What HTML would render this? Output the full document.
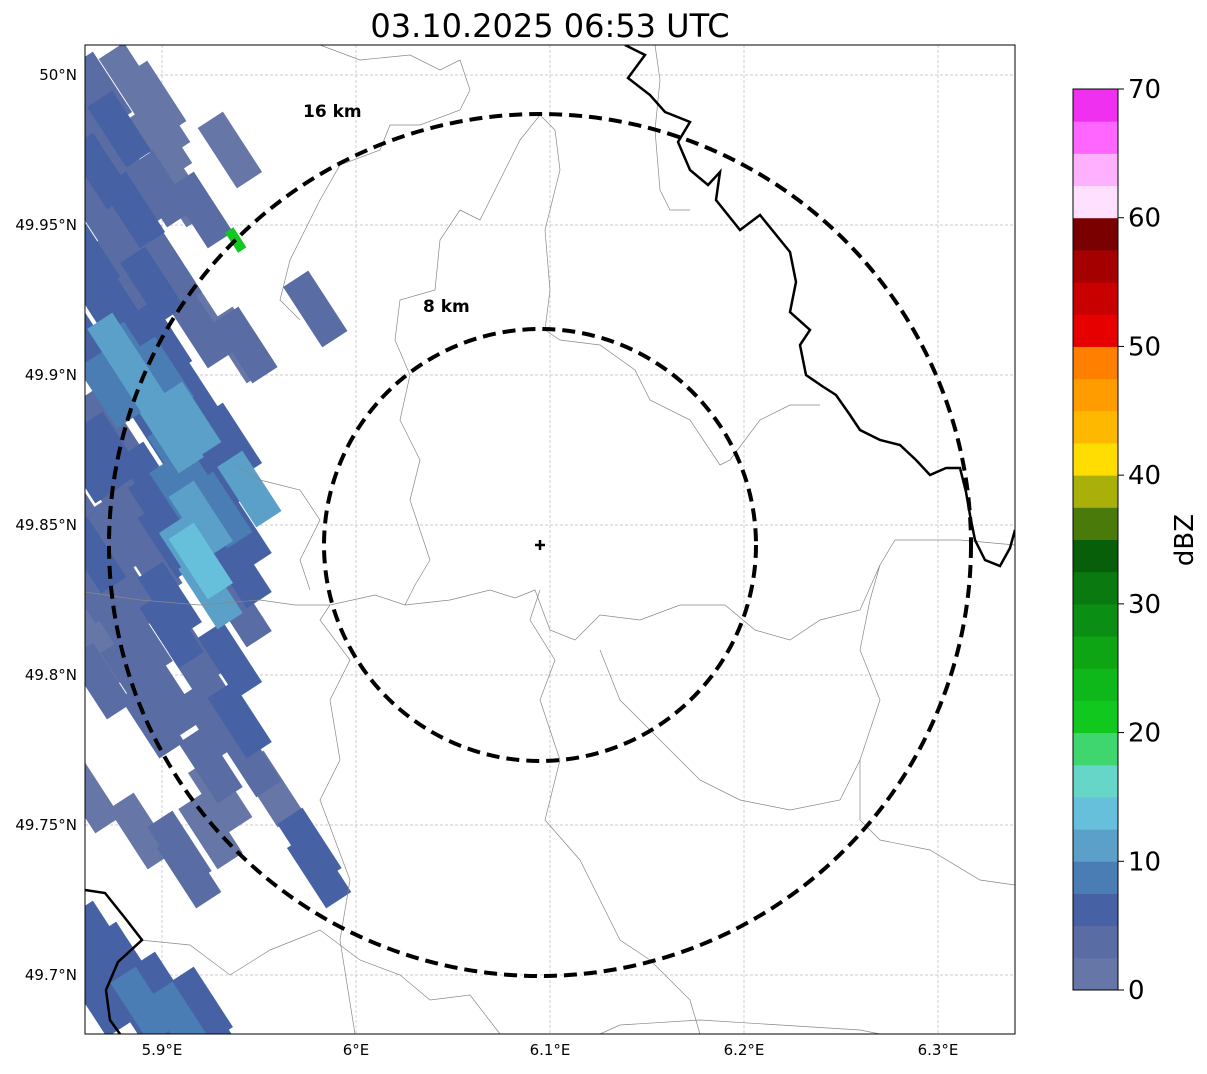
<!DOCTYPE html>
<html><head><meta charset="utf-8"><style>
body{margin:0;background:#fff;width:1207px;height:1069px;overflow:hidden;font-family:"Liberation Sans","DejaVu Sans",sans-serif}
svg text{font-family:"DejaVu Sans","Liberation Sans",sans-serif}
</style></head><body>
<svg id="chart" width="1207" height="1069" xmlns="http://www.w3.org/2000/svg">
<defs><clipPath id="mapclip"><rect x="85" y="45" width="930" height="989"/></clipPath></defs>
<text x="550" y="37" font-size="32" text-anchor="middle">03.10.2025 06:53 UTC</text>
<g id="grid"></g>
<g clip-path="url(#mapclip)">
<g id="cells"></g>
<g fill="none" stroke="#888" stroke-width="0.7">
<path d="M85,592 L140,600 L200,605 L260,600 L295,605 L330,605 L375,595 L405,605 L450,600 L490,590 L515,598 L535,590 L550,630 L575,640 L600,615 L640,620 L680,605 L725,605 L755,630 L790,640 L820,620 L860,610 L880,565 L895,540 L960,540 L1015,545"/>
<path d="M540,115 L520,140 L500,180 L480,220 L460,210 L440,240 L435,290 L400,300 L395,340 L410,375 L400,420 L420,460 L410,500 L430,560 L415,585 L405,605"/>
<path d="M540,115 L555,130 L560,170 L545,230 L550,290 L545,330 L560,340 L600,345 L635,370 L650,400 L690,420 L720,465 L730,460 L760,420 L790,405 L820,405"/>
<path d="M320,45 L360,60 L410,55 L440,70 L460,60 L470,90 L460,110 L420,125 L390,125 L380,150 L340,165 L320,200 L305,230 L290,260 L280,300 L300,320"/>
<path d="M235,465 L260,480 L300,490 L320,520 L300,560 L310,590"/>
<path d="M540,590 L530,620 L555,660 L540,700 L560,760 L545,820 L580,860 L600,900 L620,940 L650,960 L690,1000 L700,1034"/>
<path d="M330,700 L350,660 L320,620 L330,605 M330,700 L340,760 L320,800 L350,880 L340,940 L355,1034"/>
<path d="M140,940 L190,945 L230,975 L270,950 L320,930 L360,960 L400,975 L430,1000 L470,995 L500,1034"/>
<path d="M880,565 L870,600 L860,650 L880,700 L860,760 L860,820 L880,840 L930,850 L980,880 L1015,885"/>
<path d="M600,1034 L620,1025 L700,1020 L780,1025 L860,1030 L880,1034"/>
<path d="M600,650 L620,700 L650,730 L700,780 L740,800 L790,810 L840,800 L860,760"/>
<path d="M655,45 L660,80 L655,130 L660,190 L670,210 L690,210"/>
</g>
<g fill="none" stroke="#000" stroke-width="2.5">
<path d="M625,45 L645,55 L628,78 L650,95 L665,112 L690,122 L678,142 L690,170 L708,185 L720,172 L716,200 L740,230 L760,215 L790,252 L796,282 L790,312 L810,330 L800,345 L806,375 L822,386 L836,395 L850,415 L860,430 L880,440 L900,445 L916,460 L930,475 L946,468 L960,468 L966,492 L970,515 L975,540 L985,560 L1000,566 L1010,548 L1015,530"/>
<path d="M85,890 L105,893 L125,918 L142,940 L118,962 L106,990 L110,1020 L120,1034"/>
</g>
<g fill="none" stroke="#000" stroke-width="4" stroke-dasharray="13,7">
<circle cx="540" cy="545" r="431"/>
<circle cx="540" cy="545" r="216"/>
</g>
<text x="303" y="117" font-size="17" font-weight="bold">16 km</text>
<text x="423" y="312" font-size="17" font-weight="bold">8 km</text>
<path d="M540,540 V550 M535,545 H545" stroke="#000" stroke-width="2.5"/>
</g>
<rect x="85" y="45" width="930" height="989" fill="none" stroke="#000" stroke-width="1"/>
<g id="axes" font-size="15"></g>
<g id="cbar"></g>
<text transform="translate(1193,540) rotate(-90)" font-size="26" text-anchor="middle">dBZ</text>
</svg>
<script>
const lonTicks=[5.9,6.0,6.1,6.2,6.3];
const lonLabels=["5.9°E","6°E","6.1°E","6.2°E","6.3°E"];
const latTicks=[50.0,49.95,49.9,49.85,49.8,49.75,49.7];
const latLabels=["50°N","49.95°N","49.9°N","49.85°N","49.8°N","49.75°N","49.7°N"];
const cbarTicks=[0,10,20,30,40,50,60,70];
const cbarColors=["#6676a6","#5a6ca4","#4662a5","#4b7db5","#5aa0c8","#66c0dc","#66d6c8","#3fd670","#11c81f","#0fb81a","#0ea514","#0b8e14","#0a7a10","#075f0a","#4a7a0a","#aab00a","#ffdd00","#ffb800","#ff9c00","#ff7f00","#e60000","#c80000","#a50000","#7a0000","#ffe0ff","#ffb0ff","#ff66ff","#f030f0"];
const cellLon=[5.868,5.884,5.896,5.878,5.899,5.868,5.889,5.909,5.920,5.873,5.894,5.878,5.904,5.868,5.889,5.914,5.878,5.899,5.920,5.940,5.873,5.894,5.914,5.935,5.868,5.884,5.909,5.930,5.945,5.878,5.899,5.920,5.940,5.873,5.894,5.920,5.940,5.878,5.904,5.925,5.940,5.889,5.914,5.935,5.904,5.925,5.940,5.945,5.956,5.889,5.909,5.914,5.925,5.976,5.981,5.868,5.878,5.889,5.909,5.925,5.979,5.943,5.935,5.938,5.868,5.868,5.868,5.878,5.873,5.884,5.868,5.894,5.904,5.884,5.914,5.899,5.930,
5.862,5.862,5.862,5.862,5.862,5.862,5.862,5.875,5.880,5.885,5.890,5.895,5.900,5.905,5.910,5.915,5.905,5.920,5.925,5.930,5.895,5.885,5.875,5.865,5.880,5.890,5.900,5.870,5.880,5.890,5.900,5.910,5.920,5.898,5.875,5.862,5.875];
const cellLat=[49.995,49.998,49.992,49.982,49.978,49.968,49.962,49.962,49.955,49.948,49.945,49.935,49.935,49.925,49.922,49.925,49.908,49.912,49.915,49.910,49.895,49.892,49.885,49.878,49.882,49.872,49.872,49.868,49.862,49.858,49.855,49.852,49.848,49.845,49.838,49.838,49.835,49.825,49.825,49.828,49.822,49.812,49.808,49.805,49.792,49.785,49.785,49.772,49.762,49.748,49.742,49.735,49.748,49.743,49.735,49.712,49.698,49.688,49.685,49.682,49.922,49.910,49.975,49.945,49.798,49.692,49.955,49.915,49.875,49.905,49.815,49.865,49.845,49.815,49.895,49.962,49.855,
49.985,49.940,49.910,49.870,49.850,49.830,49.805,49.985,49.970,49.955,49.940,49.930,49.900,49.880,49.860,49.840,49.815,49.800,49.770,49.760,49.785,49.800,49.820,49.840,49.832,49.860,49.880,49.700,49.705,49.690,49.695,49.680,49.690,49.985,49.925,49.760,49.955];
const cellDbz=[3,2,2,5,2,5,3,2,3,3,2,4,3,5,3,2,12,5,3,2,8,10,12,6,3,4,9,6,10,3,5,11,6,3,4,13,5,3,5,10,4,3,4,5,3,3,5,3,2,2,3,3,2,6,6,7,6,5,9,5,3,3,2,22,3,6,4,5,7,8,2,6,7,3,6,3,8,
3,5,7,6,3,4,2,2,3,5,4,6,9,11,8,10,5,3,4,2,3,3,4,5,3,4,6,6,7,8,5,6,5,2,5,2,4];
const NS="http://www.w3.org/2000/svg";
const xS=lon=>162+(lon-5.9)*1940;
const yS=lat=>75+(50-lat)*3000;
const cS=v=>990-v*(901/70);
const grid=document.getElementById('grid'),axes=document.getElementById('axes');
lonTicks.forEach((t,i)=>{const x=xS(t);
 const l=document.createElementNS(NS,'line');
 
 
 l.setAttribute('x1',x);l.setAttribute('x2',x);l.setAttribute('y1',45);l.setAttribute('y2',1034);l.setAttribute('stroke','#bbb');l.setAttribute('stroke-width','0.7');l.setAttribute('stroke-dasharray','3,2');grid.appendChild(l);
 const tx=document.createElementNS(NS,'text');
 
 
 tx.setAttribute('x',x);tx.setAttribute('y',1055);tx.setAttribute('text-anchor','middle');tx.textContent=lonLabels[i];axes.appendChild(tx);});
latTicks.forEach((t,i)=>{const y=yS(t);
 const l=document.createElementNS(NS,'line');
 
 
 l.setAttribute('x1',85);l.setAttribute('x2',1015);l.setAttribute('y1',y);l.setAttribute('y2',y);l.setAttribute('stroke','#bbb');l.setAttribute('stroke-width','0.7');l.setAttribute('stroke-dasharray','3,2');grid.appendChild(l);
 const tx=document.createElementNS(NS,'text');
 
 
 tx.setAttribute('x',77);tx.setAttribute('y',y+5);tx.setAttribute('text-anchor','end');tx.textContent=latLabels[i];axes.appendChild(tx);});
const cells=document.getElementById('cells');
const col=v=>cbarColors[Math.max(0,Math.min(27,Math.floor(v/2.5)))];
const order=cellLon.map((_,i)=>i).sort((a,b)=>cellDbz[a]-cellDbz[b]);
order.forEach(i=>{const x=xS(cellLon[i]),y=yS(cellLat[i]);
 const small=cellDbz[i]>15;
 const w=small?10:30,h=small?24:72;
 const r=document.createElementNS(NS,'rect');
 
 
 r.setAttribute('x',x-w/2);r.setAttribute('y',y-h/2);r.setAttribute('width',w);r.setAttribute('height',h);
 r.setAttribute('fill',col(cellDbz[i]));r.setAttribute('transform',`rotate(-33 ${x} ${y})`);cells.appendChild(r);});
const cb=document.getElementById('cbar');
cbarColors.forEach((c,i)=>{const y1=cS((i+1)*2.5),y0=cS(i*2.5);
 const r=document.createElementNS(NS,'rect');
 
 
 r.setAttribute('x',1073);r.setAttribute('y',y1);r.setAttribute('width',45);r.setAttribute('height',y0-y1+0.5);r.setAttribute('fill',c);cb.appendChild(r);});
const fr=document.createElementNS(NS,'rect');


fr.setAttribute('x',1073);fr.setAttribute('y',89);fr.setAttribute('width',45);fr.setAttribute('height',901);fr.setAttribute('fill','none');fr.setAttribute('stroke','#000');cb.appendChild(fr);
cbarTicks.forEach(t=>{const y=cS(t);
 const l=document.createElementNS(NS,'line');
 
 
 l.setAttribute('x1',1118);l.setAttribute('x2',1124);l.setAttribute('y1',y);l.setAttribute('y2',y);l.setAttribute('stroke','#000');cb.appendChild(l);
 const tx=document.createElementNS(NS,'text');
 
 
 tx.setAttribute('x',1128);tx.setAttribute('y',y+9);tx.setAttribute('font-size','26');tx.textContent=t;cb.appendChild(tx);});
</script>
</body></html>
